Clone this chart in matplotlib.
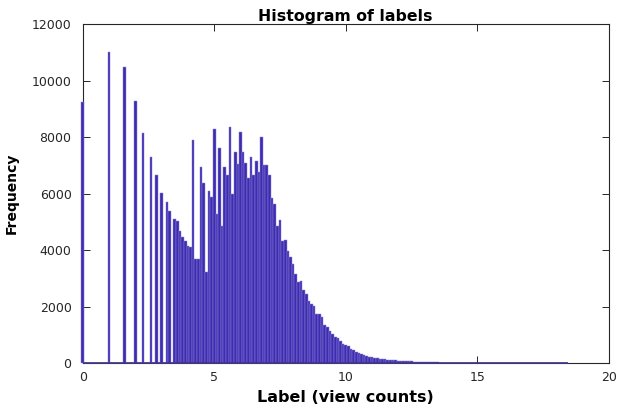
import numpy as np
import matplotlib
matplotlib.use("Agg")
import matplotlib.pyplot as plt

plt.rcParams["font.family"] = ["DejaVu Sans"]

# histogram bins: centres at 0.0, 0.1, 0.2, ... (width 0.1)
BIN_START = 0.0
BIN_WIDTH = 0.1

# counts for bins 0.0 .. 4.9 (sparse region, discrete label values)
low_counts = [
    9250, 0, 0, 0, 0, 0, 0, 0, 0, 0,          # 0.0 - 0.9
    11020, 0, 0, 0, 0, 0, 10500, 0, 0, 0,     # 1.0 - 1.9
    9290, 0, 0, 8156, 0, 0, 7290, 0, 6650, 0, # 2.0 - 2.9
    6010, 0, 5705, 5370, 0, 5100, 5030, 4681, 4470, 4320,  # 3.0 - 3.9
    4155, 4120, 7908, 3670, 3670, 6961, 6394, 3230, 6099, 5890,  # 4.0 - 4.9
]

# counts for bins 5.0 .. 9.9 (dense region)
mid_counts = [
    8298, 5273, 7613, 4858, 6940, 6667, 8358, 5993, 7471, 7046,  # 5.x
    8181, 7471, 7082, 6549, 7294, 6667, 7174, 6784, 8004, 7021,  # 6.x
    7021, 6667, 5840, 5628, 4858, 5071, 4326, 4362, 3972, 3770,  # 7.x
    3500, 3156, 2883, 2908, 2589, 2436, 2209, 2092, 2021, 1738,  # 8.x
    1738, 1621, 1348, 1287, 1145, 1028, 934, 876, 780, 674,      # 9.x
]

# counts for bins 10.0 .. 18.4 (long tail)
tail_counts = [
    640, 610, 500, 450, 380, 350, 320, 285, 260, 230,  # 10.x
    205, 190, 170, 155, 140, 130, 118, 108, 100, 92,   # 11.x
    85, 78, 72, 66, 60, 55, 50, 45, 40, 36,            # 12.x
    32, 29, 26, 23, 21, 19, 17, 15, 13, 12,            # 13.x
    11, 10, 9, 8, 7, 7, 6, 6, 5, 5,                    # 14.x
    4, 4, 3, 3, 3, 3, 2, 2, 2, 2,                      # 15.x
    2, 2, 1, 1, 1, 1, 1, 1, 1, 1,                      # 16.x
    1, 1, 1, 0, 1, 0, 1, 0, 0, 1,                      # 17.x
    0, 1, 0, 0, 1,                                     # 18.0 - 18.4
]

X_TICKS = [0, 5, 10, 15, 20]
Y_TICKS = [0, 2000, 4000, 6000, 8000, 10000, 12000]

counts = np.array(low_counts + mid_counts + tail_counts, dtype=float)
centers = BIN_START + BIN_WIDTH * np.arange(len(counts))

bar_color = "#3d2bb0"
edge_color = "#8e84d8"
axis_color = "#262626"

fig = plt.figure(figsize=(6.18, 4.08), dpi=100)
ax = fig.add_axes([0.1338, 0.1103, 0.8512, 0.8301])

bars = ax.bar(centers, counts, width=BIN_WIDTH, color=bar_color,
              edgecolor=edge_color, linewidth=0.35, zorder=3)
# let the first bin (centred on 0) show over the left axis line
for b in bars:
    b.set_clip_on(False)
# blue baseline under the whole binned range
ax.hlines(0, centers[0] - BIN_WIDTH / 2, centers[-1] + BIN_WIDTH / 2,
          color=bar_color, lw=1.2, zorder=4)

ax.set_xlim(0, 20)
ax.set_ylim(0, 12000)
ax.set_xticks(X_TICKS)
ax.set_yticks(Y_TICKS)

for s in ax.spines.values():
    s.set_color(axis_color)
    s.set_linewidth(0.8)
    s.set_zorder(2)

ax.tick_params(direction="in", length=5, width=0.7, color=axis_color,
               top=True, right=True, labelsize=9, labelcolor=axis_color)
ax.tick_params(axis="x", pad=6)
ax.tick_params(axis="y", pad=8)

ax.set_title("Histogram of labels", fontsize=11.3, fontweight="bold",
             color="black", pad=2.5)
ax.set_xlabel("Label (view counts)", fontsize=11.5, fontweight="bold",
              color="black", labelpad=4)
ax.set_ylabel("Frequency", fontsize=10, fontweight="bold",
              color="black", labelpad=9)

fig.savefig("out.png", dpi=100)
